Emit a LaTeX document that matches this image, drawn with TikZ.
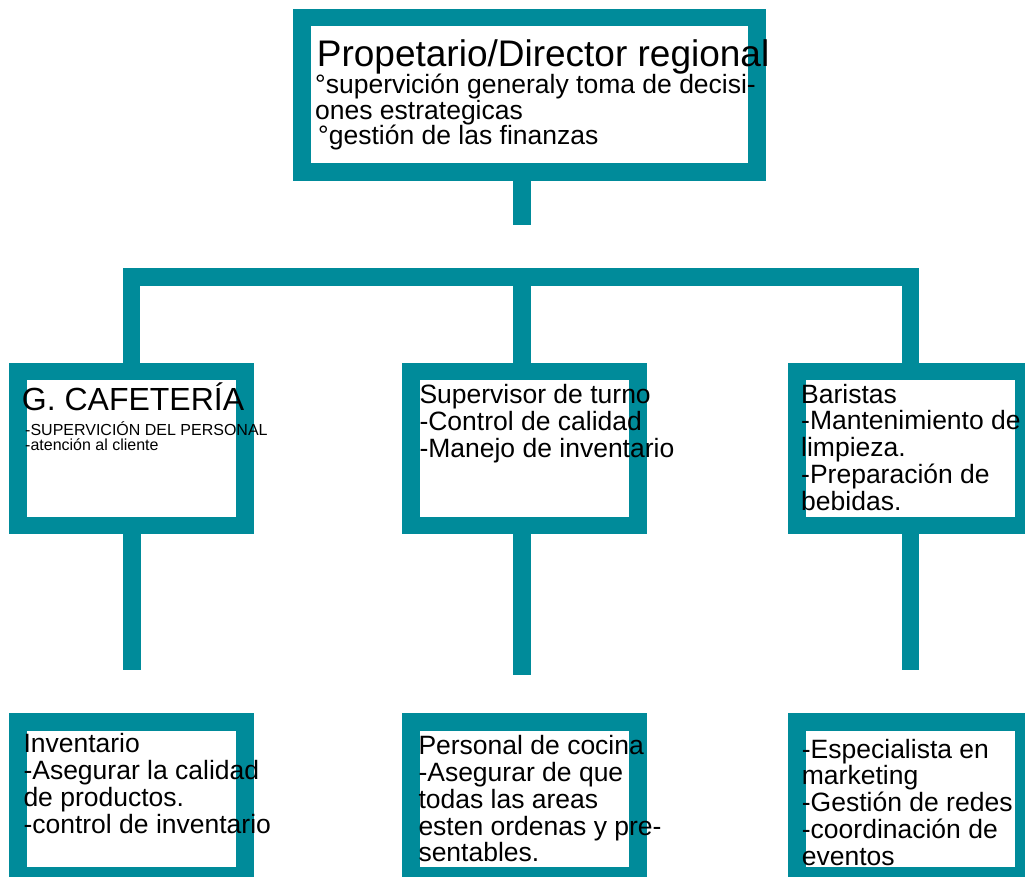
\documentclass[tikz,border=0pt]{standalone}
\usepackage{fontspec}
\setmainfont{Liberation Sans}
\usetikzlibrary{positioning}
\definecolor{petroleo}{RGB}{0,139,154}

\begin{document}
\begin{tikzpicture}[x=1pt, y=-1pt,
    cargo/.style={draw=petroleo, line width=17.5pt, minimum width=227pt,
        minimum height=154pt, inner sep=0pt},
    enlace/.style={draw=petroleo, line width=17.5pt},
    txt/.style={anchor=base west, align=left, inner sep=0pt,
        font=\fontsize{26.5}{26.7}\selectfont}]
        \useasboundingbox (0,0) rectangle (1025,877);

        \node[cargo, minimum width=455pt, minimum height=154.5pt] (dir) at (529.5,95) {};
        \node[cargo] (gcaf) at (131.7,448.5) {};
        \node[cargo] (sup) at (524.7,448.5) {};
        \node[cargo] (bar) at (910.3,448.5) {};
        \node[cargo] (inv) at (131.7,799.2) {};
        \node[cargo] (coc) at (524.7,799.2) {};
        \node[cargo] (mkt) at (910.3,799.2) {};

        \coordinate (d0) at (522,225);
        \coordinate (bus) at (522,277);
        \coordinate (g0) at (132,670);
        \coordinate (s0) at (522,675.3);
        \coordinate (b0) at (910.3,670);

        \draw[enlace] (dir.south -| d0) -- (d0);
        \draw[enlace] (gcaf.north) |- (bus) -| (bar.north);
        \draw[enlace] (bus) -- (bus |- sup.north);
        \draw[enlace] (g0 |- gcaf.south) -- (g0);
        \draw[enlace] (s0 |- sup.south) -- (s0);
        \draw[enlace] (b0 |- bar.south) -- (b0);

        % multi-line texts: placed at the baseline of their last line
        \node[txt, font=\fontsize{37}{37}\selectfont] (dirT) at (316.7,66.7)
            {Propetario/Director regional};
        \node[txt, font=\fontsize{26.5}{25.5}\selectfont] (dirB) at (315,145)
            {°supervición generaly toma de decisi-\\ones estrategicas\\\kern3pt°gestión de las finanzas};

        \node[txt, font=\fontsize{32}{32}\selectfont] (gcafT) at (21.7,410) {G. CAFETERÍA};
        \node[txt, font=\fontsize{16}{15.7}\selectfont] (gcafB) at (25,450.7)
            {-SUPERVICIÓN DEL PERSONAL\\-atención al cliente};
        \node[txt] (supT) at (419.3,457.3)
            {Supervisor de turno\\-Control de calidad\\-Manejo de inventario};
        \node[txt] (barT) at (801,510)
            {Baristas\\-Mantenimiento de\\limpieza.\\-Preparación de\\bebidas.};

        \node[txt] (invT) at (23.3,833)
            {Inventario\\-Asegurar la calidad\\de productos.\\-control de inventario};
        \node[txt] (cocT) at (418.3,861.7)
            {Personal de cocina\\-Asegurar de que\\todas las areas\\esten ordenas y pre-\\sentables.};
        \node[txt] (mktT) at (801.7,865)
            {-Especialista en\\marketing\\-Gestión de redes\\-coordinación de\\eventos};
\end{tikzpicture}
\end{document}
